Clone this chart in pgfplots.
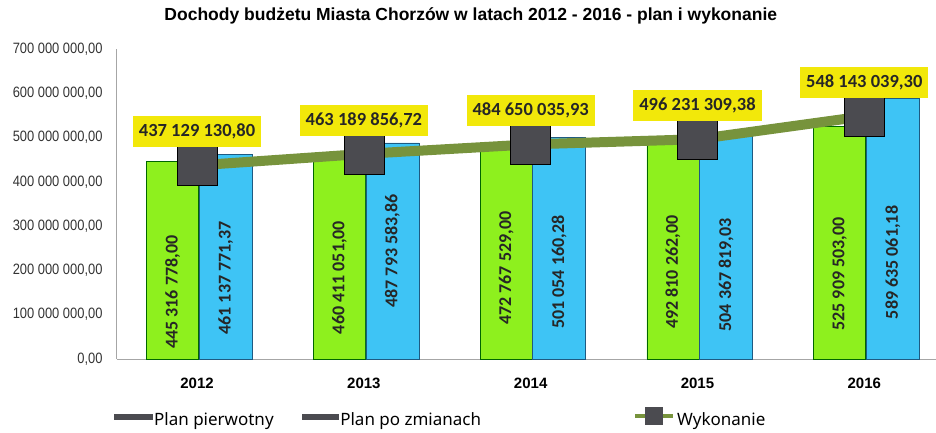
\documentclass[border=0pt]{standalone}
\usepackage{pgfplots}
\pgfplotsset{compat=1.18}
\usepackage{fontspec}
\setmainfont{Liberation Sans}
\newfontfamily\narrowfont[FakeStretch=0.86]{Liberation Sans}
\newfontfamily\carlito{Carlito}
\newfontfamily\legendfont{Noto Sans}
\definecolor{planGreen}{RGB}{142,240,30}
\definecolor{planBlue}{RGB}{62,196,245}
\definecolor{blueEdge}{RGB}{30,90,130}
\definecolor{execOlive}{RGB}{119,147,60}
\definecolor{labelYellow}{RGB}{242,232,10}
\definecolor{markGray}{RGB}{75,75,80}

\begin{document}
\begin{tikzpicture}
\begin{axis}[
    scale only axis,
    width=819pt, height=310pt,
    xmin=-0.48, xmax=4.43,
    ymin=0, ymax=7e8,
    scaled y ticks=false,
    axis x line*=bottom, axis y line*=left,
    axis line style={-, draw=gray!70, line width=1pt},
    major tick length=0pt,
    xtick={0,1,2,3,4},
    xticklabels={2012,2013,2014,2015,2016},
    xticklabel style={font=\bfseries\fontsize{15}{15}\selectfont, yshift=-15pt},
    ytick={0,1e8,2e8,3e8,4e8,5e8,6e8,7e8},
    yticklabels={{0,00},{100 000 000,00},{200 000 000,00},{300 000 000,00},{400 000 000,00},{500 000 000,00},{600 000 000,00},{700 000 000,00}},
    yticklabel style={font=\narrowfont\fontsize{15}{15}\selectfont, text=black!80, xshift=-11pt},
    title={Dochody budżetu Miasta Chorzów w latach 2012 - 2016 - plan i wykonanie},
    title style={at={(0.432,1)}, anchor=south, yshift=15pt, font=\bfseries\fontsize{17.5}{17.5}\selectfont},
    legend style={at={(0.395,-0.19)}, anchor=center, draw=none, fill=none,
        legend columns=3, font=\legendfont\fontsize{17}{17}\selectfont,
        /tikz/column 2/.style={column sep=26pt},
        /tikz/column 4/.style={column sep=150pt},
        inner sep=0pt},
    legend cell align=left,
]
% Plan pierwotny
\addplot[ybar, bar width=52pt, bar shift=-24.5pt, fill=planGreen, draw=green!40!black, line width=0.6pt,
    legend image code/.code={\fill[markGray] (0pt,1pt) rectangle (38pt,6pt);}]
coordinates {(0,445316778.00) (1,460411051.00) (2,472767529.00) (3,492810262.00) (4,525909503.00)};
\addlegendentry{Plan pierwotny}
% Plan po zmianach
\addplot[ybar, bar width=53pt, bar shift=28.5pt, fill=planBlue, draw=blueEdge, line width=0.6pt,
    legend image code/.code={\fill[markGray] (0pt,1pt) rectangle (36pt,6pt);}]
coordinates {(0,461137771.37) (1,487793583.86) (2,501054160.28) (3,504367819.03) (4,589635061.18)};
\addlegendentry{Plan po zmianach}
% Wykonanie
\addplot[color=execOlive, line width=10pt, mark=square*, mark size=20pt,
    mark options={fill=markGray, draw=black, line width=0.6pt},
    nodes near coords, point meta=explicit symbolic,
    every node near coord/.style={fill=labelYellow, text=black!85, anchor=south, yshift=18pt,
        font=\carlito\bfseries\fontsize{18.5}{18.5}\selectfont, inner xsep=6pt, minimum height=31pt},
    legend image code/.code={\draw[execOlive, line width=4pt] (0pt,4pt) -- (38pt,4pt);
        \fill[markGray] (15pt,0pt) rectangle (23pt,8pt);}]
coordinates {(0,437129130.80)[437 129 130,80] (1,463189856.72)[463 189 856,72] (2,484650035.93)[484 650 035,93] (3,496231309.38)[496 231 309,38] (4,548143039.30)[548 143 039,30]};
\addlegendentry{Wykonanie}
% labels inside bars
\addplot[draw=none, mark=none, forget plot, nodes near coords, point meta=explicit symbolic,
    every node near coord/.style={rotate=90, anchor=center, text=black!85,
        font=\carlito\bfseries\fontsize{18}{18}\selectfont}]
coordinates {(-0.147,151e6)[445 316 778,00] (0.853,184e6)[460 411 051,00] (1.853,205e6)[472 767 529,00] (2.853,196e6)[492 810 262,00] (3.853,192e6)[525 909 503,00]};
\addplot[draw=none, mark=none, forget plot, nodes near coords, point meta=explicit symbolic,
    every node near coord/.style={rotate=90, anchor=center, text=black!85,
        font=\carlito\bfseries\fontsize{18}{18}\selectfont}]
coordinates {(0.171,183e6)[461 137 771,37] (1.171,244e6)[487 793 583,86] (2.171,196e6)[501 054 160,28] (3.171,190e6)[504 367 819,03] (4.171,218e6)[589 635 061,18]};
\end{axis}
\pgfresetboundingbox
\useasboundingbox (-117pt,-73pt) rectangle (819pt,359pt);
\end{tikzpicture}
\end{document}
